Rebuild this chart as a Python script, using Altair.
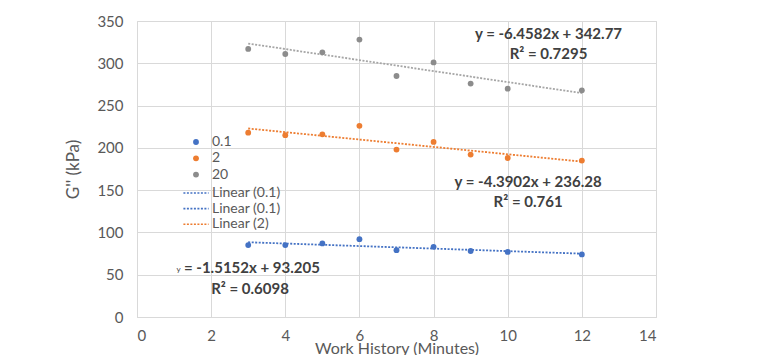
import altair as alt
import pandas as pd

# ---- data ----
work_minutes = [3, 4, 5, 6, 7, 8, 9, 10, 12]
g_01 = [85, 85, 87, 92, 79, 83, 78, 77, 74]
g_2 = [218, 215, 216, 226, 198, 207, 192, 188, 185]
g_20 = [317, 311, 313, 328, 285, 301, 276, 270, 268]

series_names = ["0.1", "2", "20"]
series_colors = ["#4472C4", "#ED7D31", "#8C8C8C"]
trend_names = ["Linear (0.1)", "Linear (0.1) ", "Linear (2)", "Linear (20)"]
trend_colors = ["#4472C4", "#4472C4", "#ED7D31", "#A5A5A5"]
trend_legend = ["Linear (0.1)", "Linear (0.1) ", "Linear (2)"]

x_ticks = [0, 2, 4, 6, 8, 10, 12, 14]
y_ticks = [0, 50, 100, 150, 200, 250, 300, 350]

ann_text = ["y = -6.4582x + 342.77", "R\u00b2 = 0.7295",
            "y = -4.3902x + 236.28", "R\u00b2 = 0.761",
            "= -1.5152x + 93.205", "R\u00b2 = 0.6098"]
ann_x = [11.1, 11.1, 10.55, 10.55, 3.1, 3.05]
ann_y = [335, 311.5, 159.5, 135.5, 58, 33]

rows = []
for name, vals in zip(series_names, [g_01, g_2, g_20]):
    for xv, yv in zip(work_minutes, vals):
        rows.append({"x": xv, "value": yv, "series": name})
df = pd.DataFrame(rows)
ann = pd.DataFrame({"text": ann_text, "x": ann_x, "y": ann_y})
small_y = pd.DataFrame({"text": ["y"], "x": [1.12], "y": [56]})

FONT = "Lato"
TXT = "#595959"

xscale = alt.Scale(domain=[0, 14], nice=False)
yscale = alt.Scale(domain=[0, 350], nice=False)

xaxis = alt.Axis(values=x_ticks, title="Work History (Minutes)", grid=True,
                 gridColor="#D9D9D9", domainColor="#D9D9D9", ticks=False,
                 labelFontSize=15, labelColor=TXT, labelFont=FONT,
                 labelPadding=11, titleFontSize=16, titleColor=TXT,
                 titleFont=FONT, titleFontWeight="normal", titlePadding=-3)
yaxis = alt.Axis(values=y_ticks, title="G'' (kPa)", grid=True,
                 gridColor="#D9D9D9", domain=False, ticks=False,
                 labelFontSize=15, labelColor=TXT, labelFont=FONT,
                 labelPadding=14, titleFontSize=17, titleColor=TXT,
                 titleFont=FONT, titleFontWeight="normal", titlePadding=14)

base = alt.Chart(df)

points = base.mark_circle(size=34, opacity=1).encode(
    x=alt.X("x:Q", scale=xscale, axis=xaxis),
    y=alt.Y("value:Q", scale=yscale, axis=yaxis),
    fill=alt.Fill("series:N",
                  scale=alt.Scale(domain=series_names, range=series_colors),
                  legend=alt.Legend(title=None, orient="none", legendX=52,
                                    legendY=114, symbolType="circle",
                                    symbolSize=34, labelFontSize=14,
                                    labelColor=TXT, labelFont=FONT,
                                    rowPadding=2.3, labelOffset=9)),
)

trend = base.transform_regression(
    "x", "value", groupby=["series"]
).transform_calculate(
    trend="'Linear (' + datum.series + ')'"
).mark_line(strokeDash=[2, 1.5], strokeWidth=1.8).encode(
    x=alt.X("x:Q", scale=xscale),
    y=alt.Y("value:Q", scale=yscale),
    stroke=alt.Stroke("trend:N",
                      scale=alt.Scale(domain=trend_names, range=trend_colors),
                      legend=alt.Legend(title=None, orient="none", legendX=51,
                                        legendY=164, values=trend_legend,
                                        symbolType="M-1.8,0H1.8",
                                        symbolSize=196,
                                        symbolStrokeWidth=1.6,
                                        symbolDash=[2, 1.5],
                                        labelFontSize=14, labelColor=TXT,
                                        labelFont=FONT, rowPadding=0.6,
                                        labelOffset=8)),
    detail="series:N",
)

labels = alt.Chart(ann).mark_text(font=FONT, fontSize=15, fontWeight="bold",
                                  color="#404040", align="center").encode(
    x=alt.X("x:Q", scale=xscale), y=alt.Y("y:Q", scale=yscale), text="text:N")

tiny = alt.Chart(small_y).mark_text(font=FONT, fontSize=8, color="#404040").encode(
    x=alt.X("x:Q", scale=xscale), y=alt.Y("y:Q", scale=yscale), text="text:N")

chart = alt.layer(trend, points, labels, tiny).properties(
    width=519, height=296,
    autosize=alt.AutoSizeParams(type="none"),
    padding={"left": 129, "top": 13, "right": 100, "bottom": 38},
    background="white",
).configure_view(stroke="#D9D9D9").configure_legend(padding=0)

chart.save("out.html", embed_options={"renderer": "svg", "actions": False})
